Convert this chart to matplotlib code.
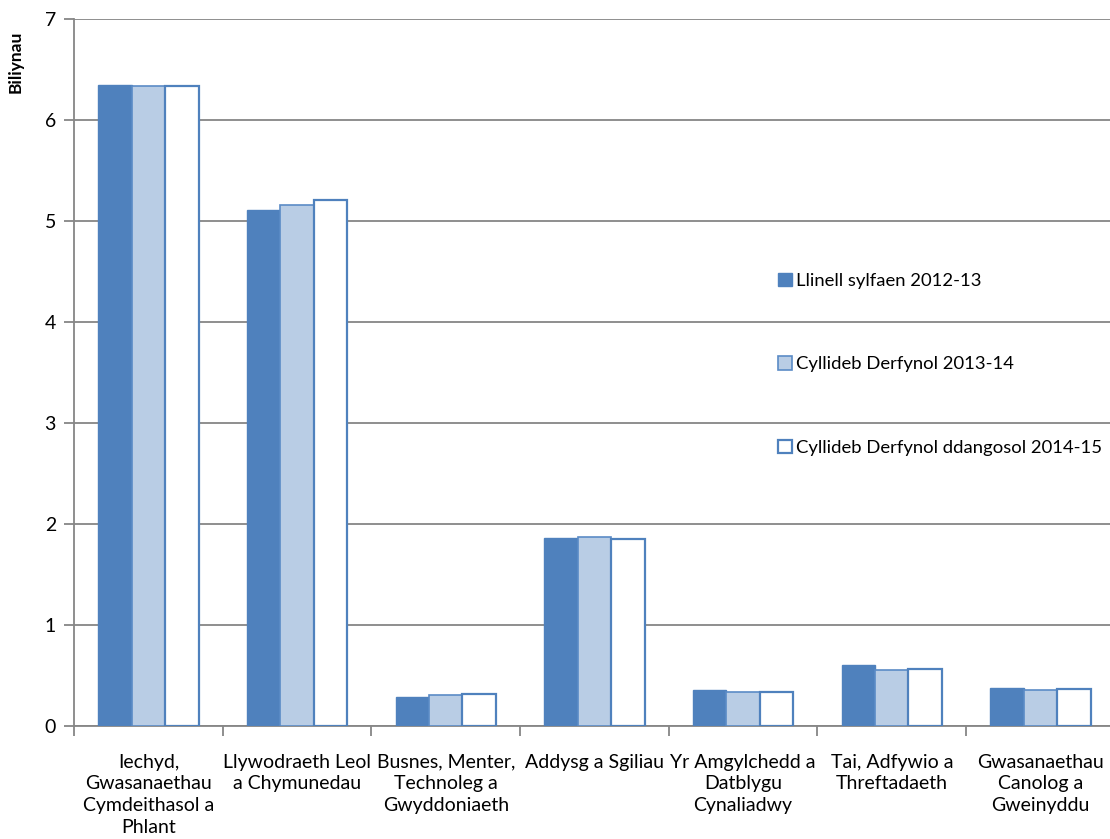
import numpy as np
import matplotlib.pyplot as plt

# data (billions)
categories = ["Iechyd,\nGwasanaethau\nCymdeithasol a\nPhlant",
              "Llywodraeth Leol\na Chymunedau",
              "Busnes, Menter,\nTechnoleg a\nGwyddoniaeth",
              "Addysg a Sgiliau",
              "Yr Amgylchedd a\nDatblygu\nCynaliadwy",
              "Tai, Adfywio a\nThreftadaeth",
              "Gwasanaethau\nCanolog a\nGweinyddu"]
series_names = ["Llinell sylfaen 2012-13",
                "Cyllideb Derfynol 2013-14",
                "Cyllideb Derfynol ddangosol 2014-15"]
baseline_2012 = [6.35, 5.11, 0.28, 1.86, 0.35, 0.60, 0.37]
final_2013 = [6.34, 5.16, 0.30, 1.87, 0.33, 0.555, 0.35]
indicative_2014 = [6.34, 5.21, 0.31, 1.85, 0.33, 0.56, 0.36]

plt.rcParams['font.family'] = ['Lato', 'DejaVu Sans']

fig = plt.figure(figsize=(11.1, 8.39), dpi=100)
ax = fig.add_axes([0.0667, 0.135, 0.9376, 0.842])

x = np.arange(len(categories))
w = 0.225
edge = '#4F81BD'
ax.bar(x - w, baseline_2012, w, color='#4F81BD', edgecolor='#4F81BD', linewidth=1.0,
       label=series_names[0], zorder=3)
ax.bar(x, final_2013, w, color='#B9CDE5', edgecolor='#5B8BC6', linewidth=1.2,
       label=series_names[1], zorder=3)
ax.bar(x + w, indicative_2014, w, color='white', edgecolor=edge, linewidth=1.6,
       label=series_names[2], zorder=3)

ax.set_xlim(-0.5, len(categories) - 0.5)
ax.set_ylim(0, 7)
ax.set_yticks(range(0, 8))
ax.yaxis.grid(True, color='#868686', linewidth=1.3, zorder=0)

ax.set_xticks(x)
ax.set_xticklabels(categories, fontsize=14, linespacing=1.35)
ax.set_xticks(np.arange(-0.5, len(categories)), minor=True)
ax.tick_params(axis='x', which='major', length=0, pad=20)
ax.tick_params(axis='x', which='minor', length=7, color='#868686', width=1.3)
ax.tick_params(axis='y', length=7, color='#868686', width=1.3, labelsize=14, pad=6)

for s in ['top', 'right']:
    ax.spines[s].set_visible(False)
for s in ['left', 'bottom']:
    ax.spines[s].set_color('#868686')
    ax.spines[s].set_linewidth(1.3)

ax.set_ylabel('Biliynau', fontsize=12.5, fontweight='bold')
ax.yaxis.set_label_coords(-0.048, 0.94)

leg = ax.legend(loc='upper left', bbox_to_anchor=(0.669, 0.652), frameon=False,
                fontsize=13.3, handlelength=0.75, handleheight=0.75,
                handletextpad=0.25, labelspacing=3.65, borderaxespad=0)

fig.savefig('out.png', dpi=100)
